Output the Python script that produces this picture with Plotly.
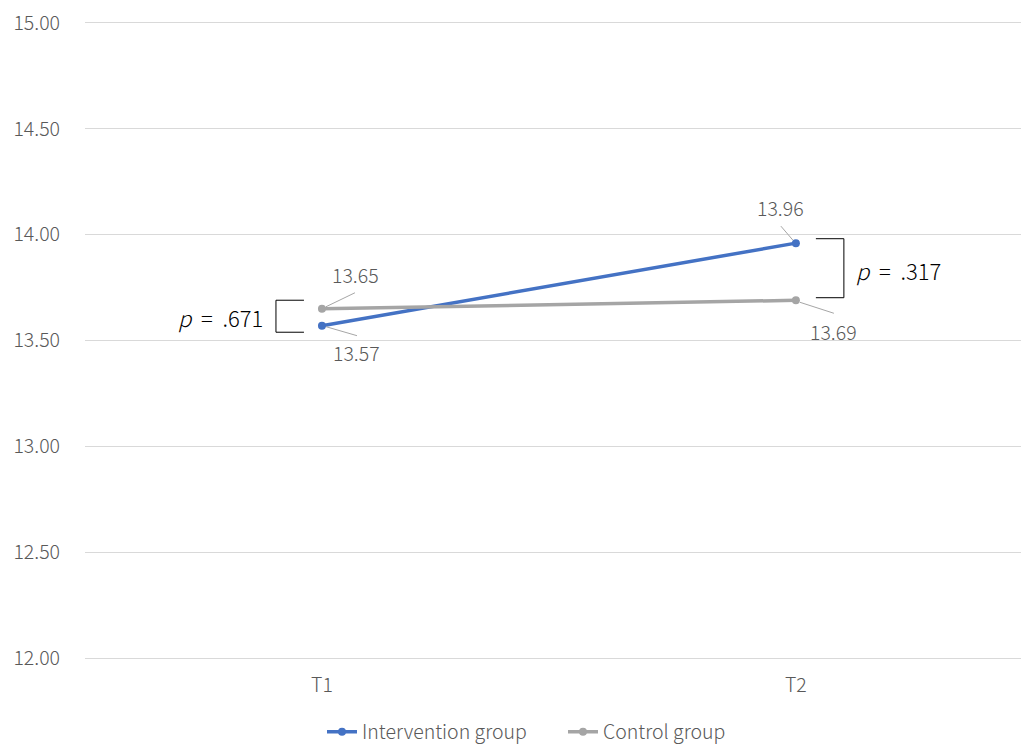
import plotly.graph_objects as go

# Data
time_points = ["T1", "T2"]
intervention = [13.57, 13.96]
control = [13.65, 13.69]
p_values = [".671", ".317"]
y_ticks = [12.0, 12.5, 13.0, 13.5, 14.0, 14.5, 15.0]

BLUE = "#4472C4"
GREY = "#A5A5A5"
TEXT = "#595959"
FONT = "Noto Sans CJK JP"
WEIGHT = 300
SIZE = 19.5

fig = go.Figure()
fig.add_trace(go.Scatter(
    x=[0, 1], y=intervention, name="Intervention group", mode="lines+markers",
    line=dict(color=BLUE, width=3.5), marker=dict(size=8, color=BLUE),
))
fig.add_trace(go.Scatter(
    x=[0, 1], y=control, name="Control group", mode="lines+markers",
    line=dict(color=GREY, width=3.5), marker=dict(size=8, color=GREY),
))

# Data labels with short leader lines, placed in pixel offsets from each point
# (value, category index, label offset (dx, dy), leader start, leader end)
label_specs = [
    (control[0], 0, (34, 34), (4, 2), (33, 16)),
    (intervention[0], 0, (35, -27), (4, -1), (35, -10)),
    (intervention[1], 1, (-15, 36), (-3, 3), (-15, 17)),
    (control[1], 1, (38, -31), (4, -2), (38, -13)),
]
for val, xi, (dx, dy), (sx, sy), (ex, ey) in label_specs:
    fig.add_annotation(
        x=xi, y=val, text=f"{val:.2f}", showarrow=False,
        xshift=dx, yshift=dy,
        font=dict(family=FONT, size=SIZE, color=TEXT, weight=WEIGHT),
    )
    fig.add_shape(
        type="line", xref="x", yref="y", xsizemode="pixel", ysizemode="pixel",
        xanchor=xi, yanchor=val, x0=sx, y0=sy, x1=ex, y1=ey,
        line=dict(color="#A6A6A6", width=1),
    )

# Significance brackets between groups at each time point
mid1 = (intervention[0] + control[0]) / 2
mid2 = (intervention[1] + control[1]) / 2
fig.add_shape(
    type="path", xref="x", yref="y", xsizemode="pixel", ysizemode="pixel",
    xanchor=0, yanchor=mid1, path="M -18 17 L -46 17 L -46 -15 L -18 -15",
    line=dict(color="black", width=1),
)
fig.add_shape(
    type="path", xref="x", yref="y", xsizemode="pixel", ysizemode="pixel",
    xanchor=1, yanchor=mid2, path="M 20 33 L 48 33 L 48 -26 L 20 -26",
    line=dict(color="black", width=1),
)
fig.add_annotation(
    x=0, y=mid1, text=f"<i>p</i>&nbsp;&nbsp;=&nbsp;&nbsp;{p_values[0]}", showarrow=False,
    xanchor="right", xshift=-57, yshift=0,
    font=dict(family=FONT, size=22, color="black", weight=WEIGHT),
)
fig.add_annotation(
    x=1, y=mid2, text=f"<i>p</i>&nbsp;&nbsp;=&nbsp;&nbsp;{p_values[1]}", showarrow=False,
    xanchor="left", xshift=58, yshift=2,
    font=dict(family=FONT, size=22, color="black", weight=WEIGHT),
)

fig.update_layout(
    width=1021, height=746,
    margin=dict(l=85, r=0, t=23, b=88),
    plot_bgcolor="white", paper_bgcolor="white",
    font=dict(family=FONT, color=TEXT, size=SIZE, weight=WEIGHT),
    showlegend=True,
    legend=dict(
        orientation="h", xref="container", yref="container",
        x=322 / 1021, xanchor="left", y=14 / 746, yanchor="middle",
        entrywidth=196, entrywidthmode="pixels",
        font=dict(family=FONT, size=SIZE, color=TEXT, weight=WEIGHT),
    ),
    xaxis=dict(
        range=[-0.5, 1.475], tickmode="array", tickvals=[0, 1], ticktext=time_points,
        showgrid=False, zeroline=False, ticks="",
        showline=True, linecolor="#D9D9D9", linewidth=1.3, mirror=True,
        ticklabelstandoff=9,
    ),
    yaxis=dict(
        range=[12, 15], tickmode="array", tickvals=y_ticks,
        ticktext=[f"{v:.2f}" for v in y_ticks],
        showgrid=True, gridcolor="#D9D9D9", gridwidth=1,
        zeroline=False, showline=False, ticks="", ticklabelstandoff=24,
    ),
)

fig.write_html("out.html")
